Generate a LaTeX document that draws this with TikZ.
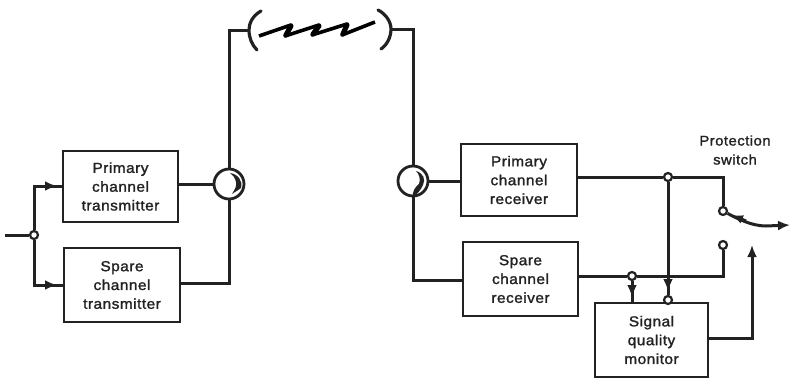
\documentclass[tikz,border=0pt]{standalone}
\usepackage{fontspec}
\setmainfont{Liberation Sans}[FakeBold=1.5]
\newfontfamily\labfont{Liberation Sans}[FakeBold=1.5,FakeStretch=1.06,LetterSpace=3.5]
\usetikzlibrary{arrows.meta}
\definecolor{ink}{HTML}{222222}
\tikzset{
  x=1pt,y=-1pt,
  wire/.style={draw=ink,line width=3pt,line join=miter},
  blockbox/.style={draw=ink,line width=2.6pt,fill=white,inner sep=0pt,align=center,text=ink,
    font=\labfont\fontsize{14.5}{18.8}\selectfont},
  dotnode/.style={circle,draw=ink,line width=2.2pt,fill=white,minimum size=8pt,inner sep=0pt},
  circ/.style={circle,draw=ink,line width=2.8pt,fill=white,minimum size=30pt,inner sep=0pt},
  tip/.style={-{Latex[length=12pt,width=10pt]}},
  bracket/.style={draw=ink,line width=3.2pt,line cap=round},
}
\begin{document}
\begin{tikzpicture}
\useasboundingbox (0,0) rectangle (790,380);
% blocks
\node[blockbox,minimum width=115pt,minimum height=71pt] (ptx) at (120.5,186.5) {Primary\\channel\\transmitter};
\node[blockbox,minimum width=116pt,minimum height=74pt] (stx) at (122,285) {Spare\\channel\\transmitter};
\node[blockbox,minimum width=116pt,minimum height=72pt] (prx) at (519,180) {Primary\\channel\\receiver};
\node[blockbox,minimum width=115pt,minimum height=74pt] (srx) at (520.5,279) {Spare\\channel\\receiver};
\node[blockbox,minimum width=113pt,minimum height=74pt] (mon) at (651.5,340) {Signal\\quality\\monitor};
% circulators
\node[circ] (cl) at (229,184) {};
\node[circ] (cr) at (413,181) {};
\fill[ink] (230,173) .. controls (238,174) and (243,181) .. (241,188)
  .. controls (239,190) and (236,191) .. (232,194) .. controls (235,189) and (237,186) .. (236,182)
  .. controls (235,178) and (233,175) .. (230,173) -- cycle;
\fill[ink] (416,171) .. controls (423,173) and (426,179) .. (423,185)
  .. controls (421,190) and (417,194) .. (413,197) .. controls (412,192) and (415,187) .. (419,184)
  .. controls (421,179) and (419,174) .. (416,171) -- cycle;
% input
\coordinate (in) at (5,235);
\node[dotnode] (split) at (34,235) {};
\coordinate (upc) at (34,186);
\coordinate (dnc) at (34,285);
\draw[wire] (in) -- (split);
\draw[wire] (split) -- (upc) -- (ptx.west |- upc);
\draw[wire] (split) -- (dnc) -- (stx.west |- dnc);
\coordinate (upa) at (57,186);
\coordinate (dna) at (57,285);
\draw[wire,tip] (upc) -- (upa);
\draw[wire,tip] (dnc) -- (dna);
% transmit side
\draw[wire] (ptx.east |- cl) -- (cl.west);
\coordinate (sc) at (229,283);
\draw[wire] (stx.east |- sc) -- (sc) -- (cl.south);
\coordinate (tl) at (229,30);
\coordinate (al) at (249,30);
\draw[wire] (cl.north) -- (tl) -- (al);
% path
\coordinate (ar) at (391,29);
\coordinate (tr) at (413,29);
\draw[bracket] (261,11) .. controls (252,16) and (249,24) .. (249,30) .. controls (249,38) and (252,45) .. (257,50);
\draw[bracket] (378,10) .. controls (386,14) and (391,22) .. (391,29) .. controls (391,37) and (387,45) .. (381,49);
\draw[wire] (ar) -- (tr) -- (cr.north);
\draw[draw=black,line width=3.6pt,line join=round] (259,36) -- (291,25) -- (285,36) -- (319,25) -- (312,35) -- (347,24) -- (342,35) -- (375,22);
\draw[draw=black,line width=5pt,line cap=round] (291,26) -- (286,35) (319,26) -- (313,34) (347,25) -- (343,34);
% receive side
\draw[wire] (cr.east) -- (prx.west |- cr);
\coordinate (sr) at (413,280);
\draw[wire] (cr.south) -- (sr) -- (srx.west |- sr);
% switch
\node[dotnode] (swa) at (723,211) {};
\node[dotnode] (swb) at (723,245) {};
\node[dotnode] (jp) at (668,177) {};
\node[dotnode] (js) at (632,276) {};
\node[dotnode] (jm) at (668,300) {};
\coordinate (tp) at (723,177);
\coordinate (bp) at (723,276);
\draw[wire] (prx.east |- tp) -- (jp) -- (tp) -- (swa);
\draw[wire] (srx.east |- bp) -- (js) -- (bp) -- (swb);
\draw[wire] (jp) -- (jm);
\draw[wire,tip] (jp) -- (668,291);
\draw[wire,tip] (js) -- (632,297);
\draw[wire] (632,290) -- (js |- mon.north);
\coordinate (mo) at (752,338);
\coordinate (mt) at (752,245);
\draw[wire,tip] (mon.east |- mo) -- (mo) -- (mt);
\coordinate (out) at (790,225);
\draw[wire,tip] (swa) .. controls (738,219) and (752,226) .. (766,226) -- (out);
\draw[wire,{Latex[length=11pt,width=9pt]}-] (732,215) -- (746,221);
% label
\node[align=center,text=ink,inner sep=0pt,font=\labfont\fontsize{14}{19}\selectfont] (lab) at (735,150) {Protection\\switch};
\end{tikzpicture}
\end{document}
